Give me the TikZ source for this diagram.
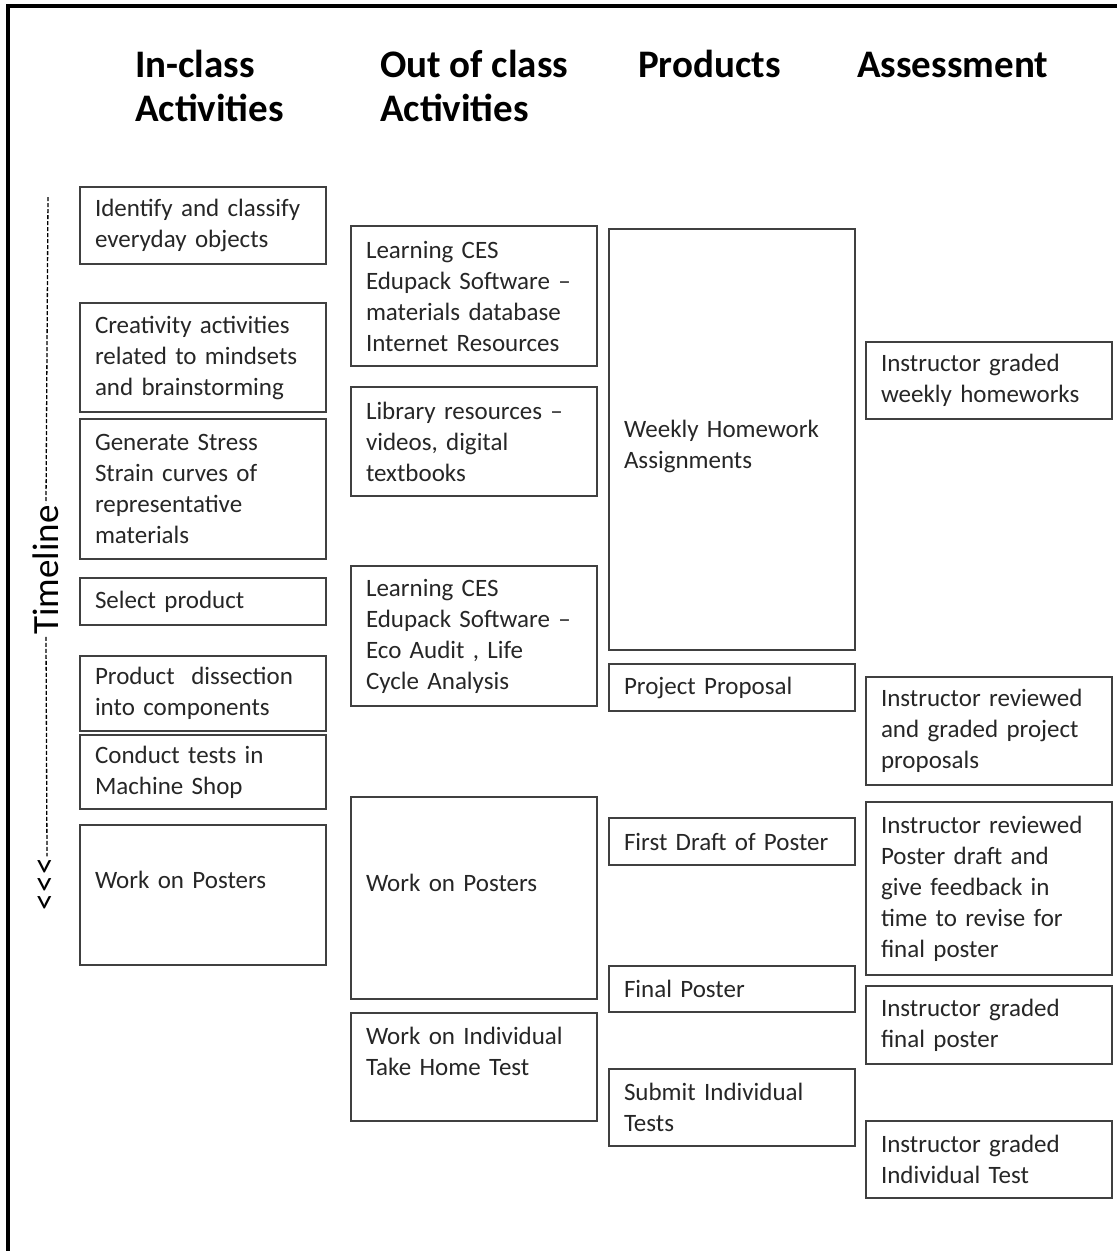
\documentclass[tikz,border=0pt]{standalone}
\usepackage{fontspec}
\setmainfont{Carlito}
\usetikzlibrary{positioning}

\tikzset{
  box/.style={draw=black!75, line width=1.6pt, anchor=north west, outer sep=0pt,
    text width=216pt, inner xsep=15pt, inner ysep=0pt, align=left,
    text=black!85, font=\fontsize{25}{31}\selectfont},
  head/.style={anchor=base west, inner sep=0pt, align=left,
    font=\bfseries\fontsize{39}{44}\selectfont},
}

\begin{document}
\begin{tikzpicture}[x=1pt, y=-1pt]
\useasboundingbox (0,0) rectangle (1117,1251);
% frame
\draw[line width=4pt] (8,1251) -- (8,6) -- (1117,6);

% column headings (base = last line)
\node[head] (h1) at (135,121) {In-class\\Activities};
\node[head] (h2) at (380,121) {Out of class\\Activities};
\node[head] (h3) at (638,77) {Products};
\node[head] (h4) at (857,77) {Assessment};

% timeline
\coordinate (tltop) at (48,197);
\node[rotate=90, inner sep=2pt, font=\fontsize{37}{40}\selectfont] (tl) at (46,570) {Timeline};
\node[rotate=90, inner sep=1pt, font=\fontsize{34}{36}\selectfont] (chev) at (47,884) {<\kern1pt<\kern1pt<};
\draw[line width=1.3pt, dash pattern=on 4pt off 2pt] (tltop) -- (tl.east);
\draw[line width=1.3pt, dash pattern=on 4pt off 2pt] (tl.west) -- (chev.east);

% in-class activities
\node[box, minimum height=77pt] (a1) at (80,187) {Identify and classify\\everyday objects};
\node[box, minimum height=109pt] (a2) at (80,303) {Creativity activities\\related to mindsets\\and brainstorming};
\node[box, minimum height=140pt] (a3) at (80,419) {Generate Stress\\Strain curves of\\representative\\materials};
\node[box, minimum height=47pt] (a4) at (80,578) {Select product};
\node[box, minimum height=75pt] (a5) at (80,656) {Product~ dissection\\into components};
\node[box, minimum height=74pt] (a6) at (80,735) {Conduct tests in\\Machine Shop};
\node[box, minimum height=140pt] (a7) at (80,825) {Work on Posters\\ \mbox{}};

% out of class activities
\node[box, minimum height=140pt] (b1) at (351,226) {Learning CES\\Edupack Software --\\materials database\\Internet Resources};
\node[box, minimum height=109pt] (b2) at (351,387) {Library resources --\\videos, digital\\textbooks};
\node[box, minimum height=140pt] (b3) at (351,566) {Learning CES\\Edupack Software --\\Eco Audit , Life\\Cycle Analysis};
\node[box, minimum height=202pt] (b4) at (351,797) {Work on Posters\\ \mbox{}};
\node[box, minimum height=108pt] (b5) at (351,1013) {Work on Individual\\Take Home Test\\ \mbox{}};

% products
\node[box, minimum height=421pt] (c1) at (609,229) {\mbox{}\\Weekly Homework\\Assignments};
\node[box, minimum height=47pt] (c2) at (609,664) {Project Proposal};
\node[box, minimum height=47pt] (c3) at (609,818) {First Draft of Poster};
\node[box, minimum height=46pt] (c4) at (609,966) {Final Poster};
\node[box, minimum height=77pt] (c5) at (609,1069) {Submit Individual\\Tests};

% assessment
\node[box, minimum height=77pt] (d1) at (866,342) {Instructor graded\\weekly homeworks};
\node[box, minimum height=108pt] (d2) at (866,677) {Instructor reviewed\\and graded project\\proposals};
\node[box, minimum height=173pt] (d3) at (866,802) {Instructor reviewed\\Poster draft and\\give feedback in\\time to revise for\\final poster};
\node[box, minimum height=78pt] (d4) at (866,986) {Instructor graded\\final poster};
\node[box, minimum height=77pt] (d5) at (866,1121) {Instructor graded\\Individual Test};
\end{tikzpicture}
\end{document}
